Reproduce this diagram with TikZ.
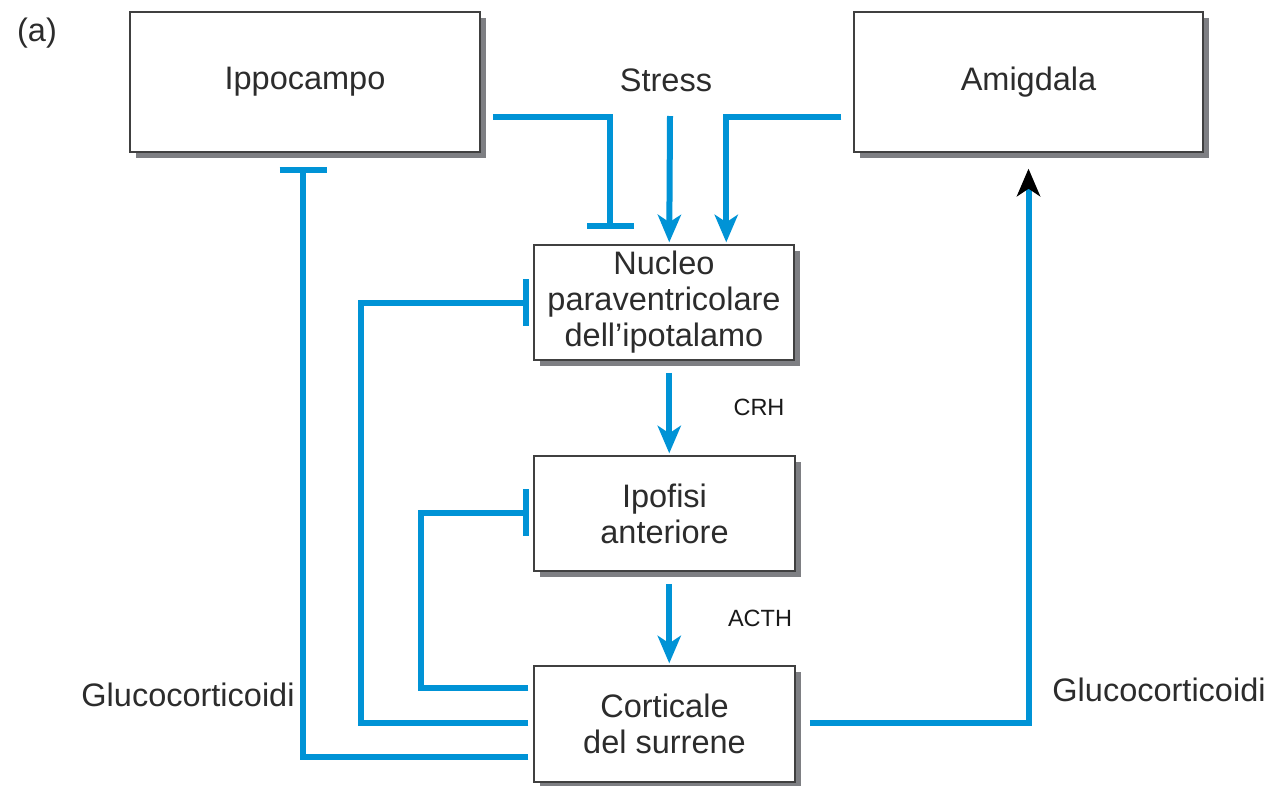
\documentclass[tikz,border=0pt]{standalone}
\usepackage{fontspec}
\setmainfont{Liberation Sans}
\usetikzlibrary{arrows.meta,calc,shadows}
\definecolor{lblue}{HTML}{0093D6}
\definecolor{shad}{HTML}{7E7F83}
\definecolor{txt}{HTML}{2C2C2C}
\begin{document}
\begin{tikzpicture}[x=1pt,y=-1pt,
  font=\fontsize{32.5}{36}\selectfont, text=txt,
  box/.style={draw=black!75, line width=1.5pt, fill=white, align=center, inner sep=0pt,
    drop shadow={shadow xshift=6pt,shadow yshift=-6pt,fill=shad,opacity=1}},
  lbl/.style={font=\fontsize{23.5}{28}\selectfont, text=black!90},
  con/.style={draw=lblue, line width=6pt, line join=miter},
  act/.style={con, -{Stealth[length=28pt,width=24pt,inset=8pt,line width=0pt]}},
  actk/.style={con, -{Stealth[length=28pt,width=24pt,inset=8pt,line width=0pt,color=black]}},
  inh/.style={con, -{Bar[width=47pt]}}]
\useasboundingbox (0,0) rectangle (1274,785);
% boxes
\node[box, minimum width=350pt, minimum height=140pt] (ipp) at (305,82) {Ippocampo};
\node[box, minimum width=349pt, minimum height=140pt] (amy) at (1028.5,82) {Amigdala};
\node[box, minimum width=260pt, minimum height=115pt] (nuc) at (664,302.5) {Nucleo\\paraventricolare\\dell’ipotalamo};
\node[box, minimum width=261pt, minimum height=115pt] (ipo) at (664.5,513.5) {Ipofisi\\anteriore};
\node[box, minimum width=261pt, minimum height=116pt] (cort) at (664.5,724) {Corticale\\del surrene};
% texts
\node (a) at (37,33) {(a)};
\node (stress) at (666,80) {Stress};
\node[lbl] (crh) at (759,407) {CRH};
\node[lbl] (acth) at (760,618) {ACTH};
\node (gl) at (188,695) {Glucocorticoidi};
\node (gr) at (1159,690) {Glucocorticoidi};
% connectors
\draw[inh] ($(ipp.east)+(12,35)$) -| ($(nuc.north west)+(77,-15)$);
\draw[act] ($(stress.center)+(4,36)$) -- ($(nuc.north west)+(136,-2)$);
\draw[act] ($(amy.west)+(-12,35)$) -| ($(nuc.north west)+(193,-2)$);
\draw[act] ($(nuc.south west)+(136,12)$) -- ($(ipo.north west)+(136,-2)$);
\draw[act] ($(ipo.south west)+(136,12)$) -- ($(cort.north west)+(136,-2)$);
\draw[inh] ($(cort.west)+(-5,-1)$) -| ($(nuc.west)+(-172,0)$) -- ($(nuc.west)+(-4,0)$);
\draw[inh] ($(cort.west)+(-5,-36)$) -| ($(ipo.west)+(-112,-1)$) -- ($(ipo.west)+(-4,-1)$);
\draw[inh] ($(cort.west)+(-5,33)$) -| ($(ipp.south)+(-2,14)$);
\draw[actk] ($(cort.east)+(14,-1)$) -| ($(amy.south)+(0,16)$);
\end{tikzpicture}
\end{document}
